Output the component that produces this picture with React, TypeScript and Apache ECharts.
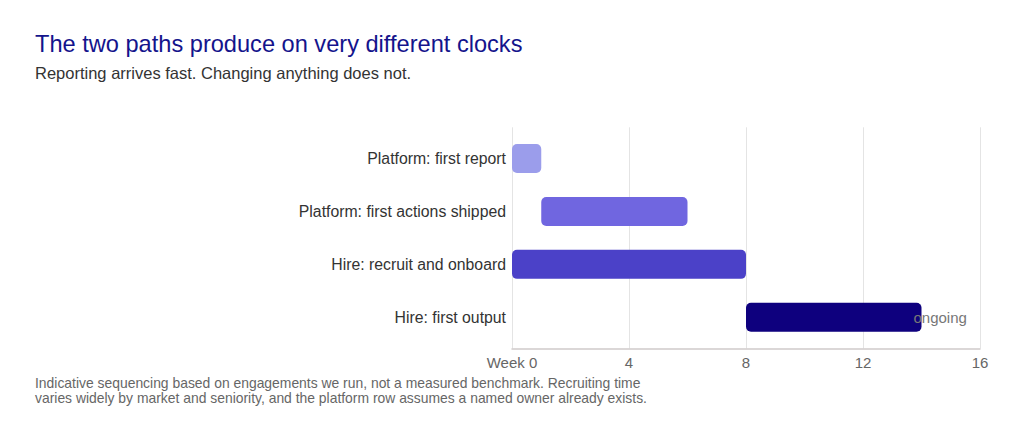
import React, { useEffect, useRef } from "react";
import * as echarts from "echarts";

const categories = [
  "Platform: first report",
  "Platform: first actions shipped",
  "Hire: recruit and onboard",
  "Hire: first output",
];
const startWeeks = [0, 1, 0, 8];
const durationWeeks = [1, 5, 8, 6];
const barLabels = ["", "", "", "ongoing"];
const barColors = ["#9b9deb", "#7066e0", "#4b41c8", "#0e007e"];
const weekMin = 0;
const weekMax = 16;
const weekStep = 4;

const titleText = "The two paths produce on very different clocks";
const subtitleText = "Reporting arrives fast. Changing anything does not.";
const footnoteLines = [
  "Indicative sequencing based on engagements we run, not a measured benchmark. Recruiting time",
  "varies widely by market and seniority, and the platform row assumes a named owner already exists.",
];

const FONT = '"Liberation Sans", Arial, Helvetica, sans-serif';

export default function App() {
  const ref = useRef<HTMLDivElement>(null);

  useEffect(() => {
    if (!ref.current) return;
    const chart = echarts.init(ref.current, null, { renderer: "svg" });
    const option = {
      animation: false,
      backgroundColor: "#ffffff",
      textStyle: { fontFamily: FONT },
      title: [
        {
          text: titleText,
          left: 35,
          top: 32,
          padding: 0,
          textStyle: { fontFamily: FONT, fontSize: 23.6, fontWeight: "normal", color: "#14148c" },
        },
        {
          text: subtitleText,
          left: 35,
          top: 64,
          padding: 0,
          textStyle: { fontFamily: FONT, fontSize: 16.5, fontWeight: "normal", color: "#333333" },
        },
      ],
      graphic: [
        {
          type: "text",
          left: 35,
          top: 375.5,
          style: {
            text: footnoteLines.join("\n"),
            fontFamily: FONT,
            fontSize: 13.9,
            lineHeight: 15.3,
            fill: "#666666",
          },
        },
      ],
      grid: [
        { left: 512, right: 44, top: 127.3, bottom: 91.5 },
        { left: 512, right: 44, top: 132.1, bottom: 96.3 },
      ],
      xAxis: [
        {
          gridIndex: 0,
          type: "value",
          min: weekMin,
          max: weekMax,
          interval: weekStep,
          axisLine: { show: true, lineStyle: { color: "#cfcaca", width: 1.5 } },
          axisTick: { show: false },
          splitLine: { show: true, lineStyle: { color: "#e4e4e4", width: 1 } },
          axisLabel: {
            color: "#666666",
            fontSize: 15,
            fontFamily: FONT,
            margin: 6,
            formatter: (v: number) => (v === 0 ? "Week 0" : String(v)),
          },
        },
        {
          gridIndex: 1,
          type: "value",
          min: weekMin,
          max: weekMax,
          show: false,
        },
      ],
      yAxis: [
        {
          gridIndex: 0,
          type: "category",
          data: categories,
          inverse: true,
          show: false,
        },
        {
          gridIndex: 1,
          type: "category",
          data: categories,
          inverse: true,
          axisLine: { show: false },
          axisTick: { show: false },
          splitLine: { show: false },
          axisLabel: { color: "#333333", fontSize: 15.8, fontFamily: FONT, margin: 6 },
        },
      ],
      series: [
        {
          type: "bar",
          xAxisIndex: 1,
          yAxisIndex: 1,
          stack: "gantt",
          barWidth: 29,
          itemStyle: { color: "transparent" },
          emphasis: { disabled: true },
          data: startWeeks,
          silent: true,
        },
        {
          type: "bar",
          xAxisIndex: 1,
          yAxisIndex: 1,
          stack: "gantt",
          barWidth: 29,
          data: durationWeeks.map((d, i) => ({
            value: d,
            itemStyle: { color: barColors[i], borderRadius: 5 },
            label: {
              show: barLabels[i] !== "",
              formatter: barLabels[i],
              position: "right",
              offset: [-13, 0],
              color: "#777777",
              fontSize: 15,
              fontFamily: FONT,
            },
          })),
        },
      ],
    };
    chart.setOption(option);
    return () => chart.dispose();
  }, []);

  return (
    <div
      ref={ref}
      style={{ position: "fixed", left: 0, top: 0, width: 1024, height: 440 }}
    />
  );
}
